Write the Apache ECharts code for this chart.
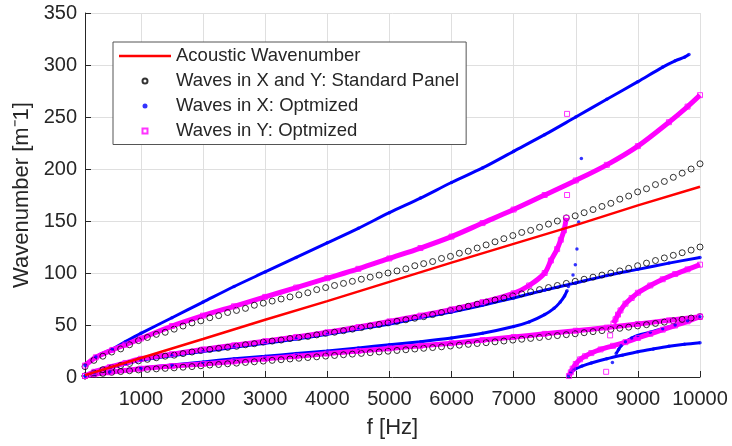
<!DOCTYPE html>
<html><head><meta charset="utf-8">
<script src="https://cdn.jsdelivr.net/npm/echarts@6/dist/echarts.min.js"></script>
<style>html,body{margin:0;padding:0;background:#fff}#c{width:732px;height:446px}</style>
</head><body><div id="c"></div>
<script>
// ---------- data ----------
const xTicks = [1000,2000,3000,4000,5000,6000,7000,8000,9000,10000];
const legendNames = ['Acoustic Wavenumber','Waves in X and Y: Standard Panel','Waves in X: Optmized','Waves in Y: Optmized'];

// Acoustic wavenumber
const acoustic = [[100,1.8],[1000,18.3],[2000,36.6],[3000,55],[4000,73],[5000,91.5],[6000,110],[7000,128],[8000,146],[9000,165],[10000,183]];

// Standard panel (circles), sampled frequencies
const freqStd = [100,243,387,530,674,817,961,1104,1248,1391,1535,1678,1822,1965,2109,2252,2396,2539,2683,2826,2970,3113,3257,3400,3543,3687,3830,3974,4117,4261,4404,4548,4691,4835,4978,5122,5265,5409,5552,5696,5839,5983,6126,6270,6413,6557,6700,6843,6987,7130,7274,7417,7561,7704,7848,7991,8135,8278,8422,8565,8709,8852,8996,9139,9283,9426,9570,9713,9857,10000];
const stdUpper = [10,16,20,24,27,31,35,38,41,43,46,49,52,54,57,59,62,64,66,69,71,73,75,77,79,81,84,86,88,90,92,94,96,98,100,102,104,107,109,111,114,116,119,121,124,127,130,133,136,139,141,144,147,150,153,155,158,161,164,167,171,174,178,181,185,188,192,196,200,205];
const stdMiddle = [1,4,7,9,11,13,15.5,17,18.5,20,21,22.5,24,25.5,26.5,27.5,28.5,29.5,31,32,33.5,34.5,35.5,37,38,39,40.5,42,43,44.5,46,47.5,49,50.5,52,53.5,55,56.5,58,60,62,64,66,68,70,72,74,76,78,80,82,84,86,88,90,92,94,96,98,100,102,104.5,107,109.5,112,114.5,117,119.5,122,125];
const stdLower = [1,2.5,3.5,4.5,5.2,6,6.8,7.3,7.8,8.3,8.8,9.4,10,10.8,11.5,12,12.7,13.3,14,14.6,15.3,16,16.6,17.3,18,18.7,19.4,20.1,20.7,21.4,22,22.7,23.4,24.1,24.8,25.5,26.2,26.9,27.6,28.3,29,29.8,30.6,31.4,32.2,33,33.8,34.6,35.5,36.3,37.1,38,38.9,39.8,40.7,41.6,42.6,43.6,44.6,45.7,46.8,47.9,49.1,50.3,51.5,52.8,54.1,55.4,56.7,58];

// Optimized panel, waves in X (blue), branches
const xBranch1 = [[100,11],[275,19.5],[540,27],[750,34],[1000,42],[1500,57],[2000,72],[2500,87],[3000,101],[3500,115],[4000,129],[4500,143],[5000,158],[5500,172],[6000,187],[6500,201],[7000,217],[7500,233],[8000,250],[8500,267],[9000,284],[9400,298],[9600,304],[9750,307.5],[9823,310]];
const xBranch2 = [[100,1],[250,4.5],[500,8.5],[750,12.5],[1000,16],[1500,20.5],[2000,24.5],[2500,28.5],[3000,32.5],[3500,36.5],[4000,41],[4500,46],[5000,51],[5500,57],[6000,62.5],[6500,69],[7000,76],[7500,83.5],[8000,90.5],[8500,97.5],[9000,103.5],[9500,109.5],[10000,115]];
const xBranch3 = [[100,1],[250,3],[500,5],[1000,8.5],[1500,11.5],[2000,14.5],[2500,17.5],[3000,20],[3500,22.5],[4000,25],[4500,28],[5000,31],[5500,34],[6000,37.5],[6500,42],[7000,48.5],[7250,53],[7500,60],[7650,66],[7750,72],[7820,78],[7860,83]];
const xBranch4 = [[7880,1],[7920,4],[7960,6.5],[8000,8],[8100,10.5],[8250,13.5],[8500,17.5],[8750,21],[9000,24.3],[9250,27],[9500,29.5],[9750,31.5],[10000,33]];
const xBranch5 = [[8650,22.5],[8690,26.5],[8730,30],[8800,34],[8900,37.5],[9000,40],[9200,43],[9400,46.5],[9600,50],[9800,54],[10000,58]];
const xIsolated = [[7881,87],[7956,98],[7993,108],[8019,123],[8047,149],[8090,210],[8590,14]];

// Optimized panel, waves in Y (magenta), branches
const yBranch1 = [[100,11],[275,19],[540,26],[750,31],[1000,37],[1500,49],[2000,59],[2500,68],[3000,77],[3500,86],[4000,95],[4500,104],[5000,114],[5500,124],[6000,135],[6500,148],[7000,161],[7500,175],[8000,189],[8500,204],[9000,222],[9500,245],[9800,260],[10000,271]];
const yBranch2 = [[100,1],[250,5],[500,9.5],[750,13.5],[1000,17.5],[1500,22],[2000,26.5],[2500,30.5],[3000,34.5],[3500,38.5],[4000,43],[4500,48],[5000,53.5],[5500,59],[6000,65],[6500,72],[7000,80.5],[7250,88],[7500,100],[7600,112],[7700,123],[7760,132],[7810,141],[7849,153]];
const yBranch3 = [[100,1],[250,2.5],[500,4.5],[1000,8],[1500,10.5],[2000,12.5],[2500,15],[3000,17.5],[3500,20],[4000,22.5],[4500,25],[5000,27.5],[5500,30],[6000,32.5],[6500,35.5],[7000,38.5],[7500,41.5],[8000,44.5],[8500,47.5],[9000,51],[9500,54.5],[10000,58]];
const yBranch4 = [[7890,1],[7920,4.5],[7950,8],[8000,12.5],[8070,17],[8150,20],[8250,23],[8400,26.5],[8600,30],[8800,33.5],[9000,37.5],[9200,41.5],[9400,45.5],[9600,49.5],[9800,53.5],[10000,58]];
const yBranch5 = [[8607,51.5],[8640,55.5],[8680,60],[8720,64],[8800,70.5],[8900,76],[9000,81],[9200,88],[9400,94],[9600,99],[9800,103.5],[10000,108]];
const yIsolated = [[7860,175],[7860,253],[8489,5],[8553,40]];

// ---------- chart ----------
const FONT = "'Liberation Sans', Arial, sans-serif";
const TXT = '#262626';
const BLUE = '#0000ff', MAG = '#ff00ff', RED = '#ff0000';

const stdData = [];
[stdUpper, stdMiddle, stdLower].forEach(arr => arr.forEach((v, i) => stdData.push([freqStd[i], v])));

function branchLine(name, data, color, width) {
  return { name, type: 'line', data, symbol: 'none', smooth: 0.3,
    lineStyle: { color, width }, silent: true, z: 2 };
}
const xBranches = [xBranch1, xBranch2, xBranch3, xBranch4, xBranch5];
const yBranches = [yBranch1, yBranch2, yBranch3, yBranch4, yBranch5];

const series = [
  { name: legendNames[0], type: 'line', data: acoustic, symbol: 'none',
    lineStyle: { color: RED, width: 2.5 }, itemStyle: { color: RED } },
  { name: legendNames[1], type: 'scatter', data: stdData, symbol: 'circle', symbolSize: 6,
    itemStyle: { color: 'rgba(0,0,0,0)', borderColor: '#000', borderWidth: 1 } },
];
xBranches.forEach((b, i) => series.push(branchLine('_x' + i, b, BLUE, 3)));
series.push({ name: legendNames[2], type: 'scatter', data: [].concat(...xBranches, xIsolated),
  symbol: 'circle', symbolSize: 3.5, itemStyle: { color: BLUE } });
yBranches.forEach((b, i) => series.push(branchLine('_y' + i, b, MAG, 5)));
series.push({ name: legendNames[3], type: 'scatter', data: [].concat(...yBranches, yIsolated),
  symbol: 'rect', symbolSize: 5,
  itemStyle: { color: 'rgba(0,0,0,0)', borderColor: MAG, borderWidth: 1 } });

const chart = echarts.init(document.getElementById('c'), null, { renderer: 'canvas' });
chart.setOption({
  animation: false,
  textStyle: { fontFamily: FONT },
  grid: { left: 85, right: 32, top: 13, bottom: 69, containLabel: false },
  legend: {
    data: [
      { name: legendNames[0], icon: 'path://M0,0H52V2.5H0Z', itemStyle: { color: RED, borderWidth: 0 } },
      { name: legendNames[1], icon: 'circle' },
      { name: legendNames[2], icon: 'circle' },
      { name: legendNames[3], icon: 'path://M0,0H10V10H0Z' }
    ],
    orient: 'vertical', left: 113, top: 42, symbolKeepAspect: true,
    padding: [4.5, 7, 4, 6], itemGap: 6, itemWidth: 52, itemHeight: 5,
    backgroundColor: '#fff', borderColor: '#555', borderWidth: 1,
    textStyle: { fontSize: 18.5, color: TXT, fontFamily: FONT },
    selectedMode: false
  },
  xAxis: {
    type: 'value', min: 100, max: 10000,
    name: 'f [Hz]', nameLocation: 'middle', nameGap: 40,
    nameTextStyle: { fontSize: 22, color: TXT, fontFamily: FONT },
    axisLine: { show: true, onZero: false, lineStyle: { color: TXT, width: 1 } },
    axisTick: { show: true, inside: true, length: 6, customValues: xTicks, lineStyle: { color: TXT } },
    axisLabel: { customValues: xTicks, fontSize: 20, color: TXT, margin: 12, fontFamily: FONT,
      formatter: v => String(v) },
    splitLine: { show: true, lineStyle: { color: '#dfdfdf', width: 1 } }
  },
  yAxis: {
    type: 'value', min: 0, max: 350, interval: 50,
    name: 'Wavenumber [m\u207B1]', nameLocation: 'middle', nameGap: 44,
    nameTextStyle: { fontSize: 22, color: TXT, fontFamily: FONT },
    axisLine: { show: true, onZero: false, lineStyle: { color: TXT, width: 1 } },
    axisTick: { show: true, inside: true, length: 6, lineStyle: { color: TXT } },
    axisLabel: { fontSize: 20, color: TXT, margin: 8, fontFamily: FONT, formatter: v => String(v) },
    splitLine: { show: true, lineStyle: { color: '#dfdfdf', width: 1 } }
  },
  series
});
</script></body></html>
